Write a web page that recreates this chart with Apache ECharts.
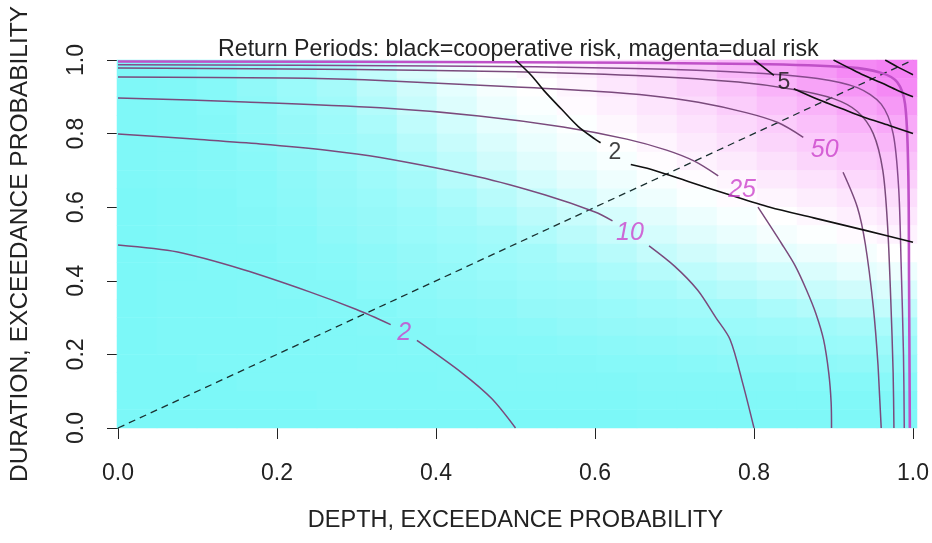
<!DOCTYPE html>
<html><head><meta charset="utf-8">
<script src="https://cdn.jsdelivr.net/npm/echarts@6/dist/echarts.min.js"></script>
<style>html,body{margin:0;padding:0;background:#fff}#c{width:932px;height:543px}</style>
</head><body><div id="c"></div>
<script>
// ---- data ----
const titleText = 'Return Periods: black=cooperative risk, magenta=dual risk';
const xName = 'DEPTH, EXCEEDANCE PROBABILITY';
const yName = 'DURATION, EXCEEDANCE PROBABILITY';
const tickValues = [0.0, 0.2, 0.4, 0.6, 0.8, 1.0];

// background shading (0 = cyan, 5 = white, 10 = magenta), 20x20 cells, rows top -> bottom
const bgRows = [
 [0.1,0.2,0.5,0.9,1.3,1.8,2.7,3.6,4.3,4.9,5.3,5.7,6.2,6.6,7.1,7.7,8.3,8.9,9.5,9.8],
 [0.1,0.2,0.4,0.8,1.2,1.6,2.4,3.2,4.0,4.6,5.0,5.4,5.9,6.3,6.8,7.3,7.9,8.5,9.0,9.5],
 [0.1,0.2,0.4,0.7,1.1,1.4,2.1,2.9,3.7,4.3,4.8,5.2,5.6,6.0,6.4,6.9,7.4,7.9,8.4,8.9],
 [0.1,0.2,0.3,0.7,1.0,1.3,1.8,2.6,3.3,4.0,4.5,4.9,5.3,5.7,6.1,6.5,6.9,7.4,7.9,8.3],
 [0.1,0.2,0.3,0.6,0.9,1.2,1.5,2.2,2.9,3.6,4.2,4.6,5.0,5.4,5.8,6.2,6.6,7.0,7.4,7.8],
 [0.1,0.2,0.3,0.5,0.8,1.1,1.4,1.9,2.5,3.2,3.8,4.3,4.7,5.1,5.5,5.8,6.2,6.6,7.0,7.3],
 [0.1,0.2,0.3,0.4,0.7,1.0,1.3,1.6,2.2,2.8,3.4,3.9,4.4,4.8,5.1,5.4,5.8,6.1,6.5,6.8],
 [0.0,0.1,0.2,0.4,0.6,0.9,1.1,1.4,1.8,2.3,2.8,3.4,4.0,4.4,4.8,5.1,5.4,5.7,6.0,6.3],
 [0.0,0.1,0.2,0.3,0.5,0.8,1.0,1.2,1.5,1.9,2.4,2.9,3.4,3.9,4.3,4.7,5.0,5.3,5.6,5.9],
 [0.0,0.1,0.2,0.3,0.4,0.7,0.9,1.1,1.3,1.5,2.0,2.4,2.9,3.4,3.8,4.2,4.6,4.9,5.2,5.5],
 [0.0,0.1,0.2,0.2,0.4,0.5,0.7,0.9,1.1,1.3,1.5,1.9,2.3,2.8,3.2,3.6,4.0,4.3,4.6,5.0],
 [0.0,0.1,0.2,0.2,0.3,0.4,0.6,0.8,0.9,1.1,1.3,1.5,1.8,2.2,2.5,2.9,3.3,3.6,4.0,4.3],
 [0.0,0.1,0.1,0.2,0.3,0.3,0.5,0.6,0.8,0.9,1.1,1.2,1.4,1.6,1.9,2.2,2.6,2.9,3.2,3.6],
 [0.0,0.1,0.1,0.2,0.2,0.3,0.3,0.5,0.6,0.7,0.9,1.0,1.1,1.3,1.4,1.5,1.8,2.1,2.4,2.7],
 [0.0,0.1,0.1,0.1,0.2,0.2,0.3,0.3,0.4,0.5,0.6,0.8,0.9,1.0,1.1,1.2,1.3,1.4,1.6,1.8],
 [0.0,0.1,0.1,0.1,0.2,0.2,0.2,0.3,0.3,0.4,0.4,0.5,0.6,0.7,0.8,0.9,1.0,1.1,1.2,1.3],
 [0.0,0.0,0.1,0.1,0.1,0.1,0.2,0.2,0.2,0.2,0.3,0.3,0.4,0.4,0.5,0.6,0.6,0.7,0.8,0.9],
 [0.0,0.0,0.0,0.1,0.1,0.1,0.1,0.1,0.2,0.2,0.2,0.2,0.2,0.3,0.3,0.3,0.3,0.4,0.4,0.5],
 [0.0,0.0,0.0,0.0,0.0,0.1,0.1,0.1,0.1,0.1,0.1,0.1,0.1,0.2,0.2,0.2,0.2,0.2,0.2,0.2],
 [0.0,0.0,0.0,0.0,0.0,0.0,0.0,0.0,0.0,0.0,0.0,0.0,0.0,0.1,0.1,0.1,0.1,0.1,0.1,0.1]
];

// dual-risk contours (magenta), each as segments broken at labels
const dual2 = [
 [[0,0.497],[0.075,0.478],[0.158,0.43],[0.241,0.37],[0.3,0.322],[0.343,0.281]],
 [[0.376,0.238],[0.4325,0.15],[0.47,0.08],[0.5,0]]
];
const dual10 = [
 [[0,0.799],[0.095,0.785],[0.179,0.772],[0.2625,0.755],[0.33,0.735],[0.454,0.682],[0.5375,0.633],[0.6,0.587],[0.622,0.563]],
 [[0.668,0.495],[0.7,0.44],[0.729,0.375],[0.752,0.3],[0.77,0.24],[0.786,0.12],[0.8,0]]
];
const dual25 = [
 [[0,0.897],[0.16,0.886],[0.33,0.87],[0.454,0.848],[0.56,0.818],[0.64,0.785],[0.69,0.755],[0.725,0.725],[0.755,0.685]],
 [[0.805,0.6],[0.835,0.5],[0.852,0.44],[0.866,0.375],[0.878,0.31],[0.8875,0.24],[0.894,0.15],[0.897,0.07],[0.8975,0]]
];
const dual50 = [
 [[0,0.954],[0.21,0.951],[0.31,0.946],[0.495,0.927],[0.6,0.915],[0.67,0.903],[0.73,0.885],[0.79,0.857],[0.83,0.83],[0.862,0.79]],
 [[0.912,0.695],[0.93,0.6],[0.94,0.5],[0.95,0.33],[0.956,0.17],[0.96,0]]
];
const dual100 = [
 [[0,0.978],[0.3,0.974],[0.5,0.968],[0.67,0.956],[0.78,0.94],[0.85,0.92],[0.9,0.895],[0.93,0.86],[0.95,0.8],[0.962,0.7],[0.968,0.55],[0.972,0.35],[0.975,0.15],[0.976,0]]
];
const dual200 = [
 [[0,0.987],[0.4,0.984],[0.65,0.977],[0.8,0.965],[0.88,0.95],[0.93,0.925],[0.96,0.88],[0.975,0.8],[0.982,0.65],[0.985,0.45],[0.988,0.2],[0.989,0]]
];
const dual500 = [
 [[0,0.996],[0.5,0.994],[0.8,0.989],[0.92,0.98],[0.96,0.965],[0.98,0.94],[0.99,0.88],[0.994,0.7],[0.995,0.4],[0.996,0]]
];
const dualLabels = [[0.36,0.258,'2'],[0.644,0.53,'10'],[0.785,0.647,'25'],[0.889,0.755,'50']];

// cooperative-risk contours (black)
const coop2 = [
 [[0.5,1.0],[0.52,0.958],[0.537,0.914],[0.558,0.866],[0.579,0.819],[0.6,0.785],[0.607,0.775]],
 [[0.645,0.716],[0.67,0.703],[0.72,0.668],[0.77,0.633],[0.82,0.6],[0.875,0.571],[0.94,0.537],[1.0,0.505]]
];
const coop5 = [
 [[0.8,1.0],[0.815,0.975],[0.825,0.958]],
 [[0.85,0.922],[0.8825,0.891],[0.91,0.868],[0.9375,0.845],[0.97,0.822],[1.0,0.8]]
];
const coop10 = [[[0.9,1.0],[0.92,0.978],[0.9375,0.959],[0.96,0.938],[0.98,0.918],[1.0,0.9]]];
const coop25 = [[[0.965,1.0],[0.98,0.982],[1.0,0.96]]];
const coopLabels = [[0.625,0.747,'2'],[0.8375,0.9375,'5']];

const diagX = [0, 1];
const diagY = [0, 1];

// ---- chart ----
const FONT = "'Liberation Sans', Arial, sans-serif";
const TXT = '#222';
const gridBox = {left:117, top:60, width:800, height:368};

const heatData = [];
bgRows.forEach((row, r) => row.forEach((v, c) => heatData.push([c, bgRows.length - 1 - r, v])));
const cats = bgRows[0].map((_, i) => String(i));

const series = [{
  type:'heatmap', xAxisIndex:0, yAxisIndex:0, data:heatData, silent:true, z:1,
  itemStyle:{borderWidth:0}
}];

function addCurve(segs, color, width) {
  segs.forEach(s => series.push({
    type:'line', xAxisIndex:1, yAxisIndex:1, data:s, symbol:'none', smooth:0.3,
    lineStyle:{color:color, width:width}, silent:true, z:5
  }));
}
addCurve(dual2, '#7a4a7c', 1.5);
addCurve(dual10, '#7a4a7c', 1.5);
addCurve(dual25, '#7a4a7c', 1.5);
addCurve(dual50, '#7a4a7c', 1.5);
addCurve(dual100, '#7a4a7c', 1.5);
addCurve(dual200, '#864a8c', 1.5);
addCurve(dual500, '#c050c8', 2.6);
addCurve(coop2, '#111', 1.6);
addCurve(coop5, '#111', 1.6);
addCurve(coop10, '#111', 1.6);
addCurve(coop25, '#111', 1.6);

series.push({
  type:'line', xAxisIndex:1, yAxisIndex:1, data: diagX.map((x, i) => [x, diagY[i]]),
  symbol:'none', lineStyle:{color:'#1a3030', width:1.3, type:[7,5]}, silent:true, z:4
});

function labelSeries(arr, color, italic, size) {
  series.push({
    type:'scatter', xAxisIndex:1, yAxisIndex:1, data:arr, symbolSize:0, silent:true, z:6,
    encode:{x:0, y:1},
    label:{show:true, position:'inside', formatter:p => p.value[2], color:color,
      fontSize:size, fontStyle: italic ? 'italic' : 'normal', fontFamily:FONT}
  });
}
labelSeries(dualLabels, '#cc44cc', true, 25);
labelSeries(coopLabels, '#111', false, 23);

const valueAxisCommon = {
  type:'value', gridIndex:1, min:0, max:1, interval:0.2,
  axisLine:{show:false},
  axisTick:{show:true, length:11, lineStyle:{color:TXT, width:1}},
  splitLine:{show:false},
  nameLocation:'middle'
};

const chart = echarts.init(document.getElementById('c'));
chart.setOption({
  animation:false,
  backgroundColor:'#fff',
  title:{text:titleText, left:213, top:33,
    textStyle:{fontSize:23.2, fontWeight:'normal', color:TXT, fontFamily:FONT}},
  grid:[Object.assign({}, gridBox), Object.assign({}, gridBox)],
  xAxis:[
    {type:'category', gridIndex:0, data:cats, show:false},
    Object.assign({}, valueAxisCommon, {
      offset:4, name:xName, nameGap:77,
      nameTextStyle:{fontSize:23.5, color:TXT, fontFamily:FONT},
      axisLabel:{margin:30, fontSize:23, color:TXT, fontFamily:FONT,
        showMinLabel:true, showMaxLabel:true,
        formatter: v => tickValues.includes(+v.toFixed(1)) ? v.toFixed(1) : ''}
    })
  ],
  yAxis:[
    {type:'category', gridIndex:0, data:cats, show:false},
    Object.assign({}, valueAxisCommon, {
      offset:2, name:yName, nameGap:83,
      nameTextStyle:{fontSize:24.5, color:TXT, fontFamily:FONT},
      axisLabel:{margin:28, fontSize:23, rotate:90, color:TXT, fontFamily:FONT,
        showMinLabel:true, showMaxLabel:true,
        formatter: v => v.toFixed(1)}
    })
  ],
  visualMap:{show:false, seriesIndex:0, min:0, max:10,
    inRange:{color:['#7cf8f8','#ffffff','#f47cf4']}},
  series:series
});
</script>
</body></html>
